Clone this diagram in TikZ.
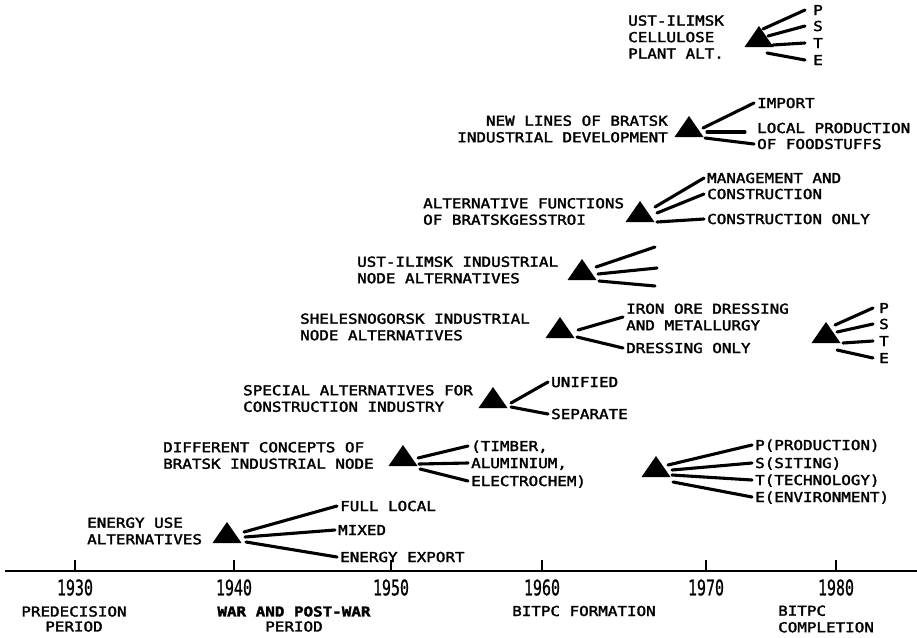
\documentclass[tikz,border=0pt]{standalone}
\usepackage{fontspec}
\newfontfamily\tw[FakeStretch=1.16,FakeBold=2.2]{DejaVu Sans Mono}
\newfontfamily\twn[FakeBold=0.8]{DejaVu Sans Mono}
\usetikzlibrary{calc}
\tikzset{
  lbl/.style={font={\tw\fontsize{13.7}{16.5}\selectfont}, inner sep=0pt, anchor=west, align=left},
  opt/.style={font={\tw\fontsize{13.7}{16.5}\selectfont}, inner sep=3pt, anchor=west, align=left},
  one/.style={text height=10pt, text depth=0pt},
  con/.style={line width=3.1pt, line cap=round},
  tri/.pic={\fill (-14.5,10) -- (14.5,10) -- (0,-11) -- cycle; \coordinate (-c) at (0,0);},
  year/.style={font={\twn\fontsize{13}{13}\selectfont}, inner sep=0pt},
  period/.style={font={\tw\fontsize{13.7}{15}\selectfont}, inner sep=0pt, align=center},
  tick/.style={line width=1.5pt},
  axis/.style={line width=2.8pt},
}
\begin{document}
\begin{tikzpicture}[x=1pt,y=-1pt]
\useasboundingbox (0,0) rectangle (917,637);

% ---------- axis ----------
\coordinate (axL) at (5,571);
\coordinate (axR) at (917,571);
\draw[axis] (axL) -- (axR);
\foreach \yr/\xx in {1930/75,1940/234,1950/391,1960/542,1970/706,1980/836}{
  \coordinate (tk\yr) at (\xx,571);
  \draw[tick] (tk\yr) -- ++(0,-11);
  \node[year] (y\yr) at (\xx,587.5) {\scalebox{1.15}[1.65]{\yr}};
}
\node[period] (p1) at (74,619) {PREDECISION\\PERIOD};
\node[period] (p2) at (294,619) {\textbf{WAR AND POST-WAR}\\PERIOD};
\node[lbl,one] (p3) at (512,611) {BITPC FORMATION};
\node[lbl] (p4) at (778,619) {BITPC\\COMPLETION};

% ---------- 1: energy use ----------
\pic (t1) at (227,533) {tri};
\node[lbl] (l1) at (87,531) {ENERGY USE\\ALTERNATIVES};
\node[opt,one] (o1a) at (337,506) {FULL LOCAL};
\node[opt,one] (o1b) at (335,530) {MIXED};
\node[opt,one] (o1c) at (337,557) {ENERGY EXPORT};
\draw[con] ($(t1-c)+(17,-1)$) -- (o1a.west);
\draw[con] ($(t1-c)+(18,4)$) -- (o1b.west);
\draw[con] ($(t1-c)+(19,9)$) -- (o1c.west);

% ---------- 2: Bratsk industrial node ----------
\pic (t2) at (403,456) {tri};
\node[lbl] (l2) at (163,455.5) {DIFFERENT CONCEPTS OF\\BRATSK INDUSTRIAL NODE};
\node[opt,one] (o2a) at (468,446) {(TIMBER,};
\node[opt,one] (o2b) at (468,463) {ALUMINIUM,};
\node[opt,one] (o2c) at (468,481) {ELECTROCHEM)};
\draw[con] ($(t2-c)+(15,2)$) -- (o2a.west);
\draw[con] ($(t2-c)+(16,8)$) -- (o2b.west);
\draw[con] ($(t2-c)+(17,13)$) -- (o2c.west);

% ---------- 3: construction industry ----------
\pic (t3) at (493,398) {tri};
\node[lbl] (l3) at (243,398.5) {SPECIAL ALTERNATIVES FOR\\CONSTRUCTION INDUSTRY};
\node[opt,one] (o3a) at (548,382) {UNIFIED};
\node[opt,one] (o3b) at (548,414) {SEPARATE};
\draw[con] ($(t3-c)+(18,5)$) -- (o3a.west);
\draw[con] ($(t3-c)+(18,9)$) -- (o3b.west);

% ---------- 4: Shelesnogorsk ----------
\pic (t4) at (560,328) {tri};
\node[lbl] (l4) at (300,327) {SHELESNOGORSK INDUSTRIAL\\NODE ALTERNATIVES};
\node[opt] (o4a) at (623,317) {IRON ORE DRESSING\\AND METALLURGY};
\node[opt,one] (o4b) at (623,348) {DRESSING ONLY};
\draw[con] ($(t4-c)+(18,2)$) -- (o4a.west);
\draw[con] ($(t4-c)+(17,9)$) -- (o4b.west);

% ---------- 5: Ust-Ilimsk industrial node ----------
\pic (t5) at (582,270) {tri};
\node[lbl] (l5) at (357,270) {UST-ILIMSK INDUSTRIAL\\NODE ALTERNATIVES};
\coordinate (e5a) at (655,247);
\coordinate (e5b) at (657,268);
\coordinate (e5c) at (655,286);
\draw[con] ($(t5-c)+(14,-3)$) -- (e5a);
\draw[con] ($(t5-c)+(16,4)$) -- (e5b);
\draw[con] ($(t5-c)+(17,11)$) -- (e5c);

% ---------- 6: Bratskgesstroi ----------
\pic (t6) at (640,212) {tri};
\node[lbl] (l6) at (423,211.5) {ALTERNATIVE FUNCTIONS\\OF BRATSKGESSTROI};
\node[opt,one] (o6a) at (704,178) {MANAGEMENT AND};
\node[opt,one] (o6b) at (704,194) {CONSTRUCTION};
\node[opt,one] (o6c) at (704,219) {CONSTRUCTION ONLY};
\draw[con] ($(t6-c)+(15,-5)$) -- (o6a.west);
\draw[con] ($(t6-c)+(17,1)$) -- (o6b.west);
\draw[con] ($(t6-c)+(17,10)$) -- (o6c.west);

% ---------- 7: New lines of Bratsk ----------
\pic (t7) at (689,127) {tri};
\node[lbl,anchor=east,align=right] (l7) at (668,129) {NEW LINES OF BRATSK\\INDUSTRIAL DEVELOPMENT};
\node[opt,one] (o7a) at (754,103) {IMPORT};
\node[opt,one] (o7b) at (754,128) {LOCAL PRODUCTION};
\node[opt,one] (o7c) at (754,144) {OF FOODSTUFFS};
\draw[con] ($(t7-c)+(14,1)$) -- (o7a.west);
\draw[con] ($(t7-c)+(18,5)$) -- ($(o7b.west)+(-9,4)$);
\draw[con] ($(t7-c)+(16,11)$) -- (o7c.west);

% ---------- 8: Ust-Ilimsk cellulose ----------
\pic (t8) at (759,37) {tri};
\node[lbl] (l8) at (628,37) {UST-ILIMSK\\CELLULOSE\\PLANT ALT.};
\node[opt,one,inner xsep=8pt] (o8a) at (805,10) {P};
\node[opt,one,inner xsep=8pt] (o8b) at (805,26) {S};
\node[opt,one,inner xsep=8pt] (o8c) at (805,43) {T};
\node[opt,one,inner xsep=8pt] (o8d) at (805,60) {E};
\draw[con] ($(t8-c)+(4,-8)$) -- (o8a.west);
\draw[con] ($(t8-c)+(9,-1)$) -- (o8b.west);
\draw[con] ($(t8-c)+(14,8)$) -- (o8c.west);
\draw[con] ($(t8-c)+(8,16)$) -- (o8d.west);

% ---------- 9: PSTE near 1980 ----------
\pic (t9) at (826,333) {tri};
\node[opt,one,inner xsep=6pt] (o9a) at (873,308) {P};
\node[opt,one,inner xsep=6pt] (o9b) at (873,324) {S};
\node[opt,one,inner xsep=6pt] (o9c) at (873,341) {T};
\node[opt,one,inner xsep=6pt] (o9d) at (873,358) {E};
\draw[con] ($(t9-c)+(9,-8)$) -- (o9a.west);
\draw[con] ($(t9-c)+(11,-1)$) -- (o9b.west);
\draw[con] ($(t9-c)+(17,10)$) -- (o9c.west);
\draw[con] ($(t9-c)+(11,17)$) -- (o9d.west);

% ---------- 10: PSTE legend ----------
\pic (t10) at (656,467) {tri};
\node[opt,one] (o10a) at (752,445) {P(PRODUCTION)};
\node[opt,one] (o10b) at (752,463) {S(SITING)};
\node[opt,one] (o10c) at (752,480) {T(TECHNOLOGY)};
\node[opt,one] (o10d) at (752,497) {E(ENVIRONMENT)};
\draw[con] ($(t10-c)+(12,-2)$) -- (o10a.west);
\draw[con] ($(t10-c)+(16,3)$) -- (o10b.west);
\draw[con] ($(t10-c)+(16,8)$) -- (o10c.west);
\draw[con] ($(t10-c)+(17,15)$) -- (o10d.west);
\end{tikzpicture}
\end{document}
